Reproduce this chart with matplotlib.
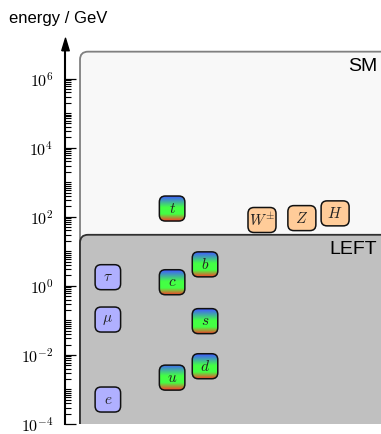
import numpy as np
import matplotlib
matplotlib.use("Agg")
import matplotlib.pyplot as plt
from matplotlib.patches import FancyBboxPatch
from matplotlib.colors import LinearSegmentedColormap
from matplotlib.ticker import FixedLocator, FuncFormatter, NullFormatter

plt.rcParams["mathtext.fontset"] = "cm"
plt.rcParams["font.family"] = ["Liberation Sans", "DejaVu Sans"]

# masses in GeV, x = column on the chart
leptons = [r"$e$", r"$\mu$", r"$\tau$"]
lepton_mass = [0.000511, 0.1057, 1.777]
lepton_x = [1.37, 1.37, 1.37]

quarks = [r"$u$", r"$d$", r"$s$", r"$c$", r"$b$", r"$t$"]
quark_mass = [0.0022, 0.0047, 0.095, 1.27, 4.18, 172.7]
quark_x = [3.40, 4.44, 4.44, 3.40, 4.44, 3.40]

bosons = [r"$W^{\pm}$", r"$Z$", r"$H$"]
boson_mass = [80.4, 91.2, 125.1]
boson_x = [6.24, 7.50, 8.55]

# validity regions (theory name, upper energy, left edge)
regions = ["SM", "LEFT"]
region_top = [6e6, 30.0]
region_left = [0.49, 0.49]

major_ticks = [1e-4, 1e-2, 1e0, 1e2, 1e4, 1e6]

lepton_color = "#b0b0ff"
boson_color = "#ffcc99"
region_face = ["#f8f8f8", "#c0c0c0"]
region_edge = ["#808080", "#303030"]
quark_cmap = LinearSegmentedColormap.from_list(
    "rgb", [(0.0, "#ff3b2a"), (0.28, "#44ff44"), (0.55, "#44ff44"), (1.0, "#3f5cff")]
)

fig = plt.figure(figsize=(3.81, 4.34), dpi=100)
ax = fig.add_axes([64.5 / 381, 10 / 434, 1 - 64.5 / 381, 380 / 434])
ax.set_yscale("log")
ax.set_xlim(0, 10)
ax.set_ylim(1e-4, 1e7)
ax.autoscale(False)
ax.patch.set_alpha(0)

W = ax.bbox.width
H = ax.bbox.height


def to_axes(x, y):
    return ax.transAxes.inverted().transform(ax.transData.transform((x, y)))


def rounded(x0, y0, w, h, r, **kw):
    # box given in axes fraction, rounding radius in pixels
    p = FancyBboxPatch(
        (x0, y0), w, h,
        boxstyle=f"round,pad=0,rounding_size={r / W}",
        mutation_aspect=W / H,
        transform=ax.transAxes,
        **kw,
    )
    ax.add_patch(p)
    return p


# regions
for name, top, left, fc, ec in zip(regions, region_top, region_left, region_face, region_edge):
    x0, y1 = to_axes(left, top)
    rounded(x0, -0.1, 1.3 - x0, y1 + 0.1, 8, facecolor=fc, edgecolor=ec, lw=1.3, zorder=1)
    ax.text(1 - 4 / W, y1 - 15 / H, name, transform=ax.transAxes,
            ha="right", va="center", fontsize=14, zorder=2)


def particle(x, m, label, bw, fc=None, gradient=False):
    cx, cy = to_axes(x, m)
    w, h = bw / W, 25 / H
    x0, y0 = cx - w / 2, cy - h / 2
    p = rounded(x0, y0, w, h, 6, facecolor=fc if fc else "none",
                edgecolor="#111111", lw=1.1, zorder=4)
    if gradient:
        im = ax.imshow(np.linspace(0, 1, 64).reshape(-1, 1), extent=[x0, x0 + w, y0, y0 + h],
                       transform=ax.transAxes, aspect="auto", origin="lower",
                       cmap=quark_cmap, interpolation="bilinear", zorder=3)
        im.set_clip_path(p)
    ax.text(cx, cy, label, transform=ax.transAxes, ha="center", va="center",
            fontsize=11, color="#222222", zorder=5)


for x, m, lab in zip(lepton_x, lepton_mass, leptons):
    particle(x, m, lab, 25.5, fc=lepton_color)
for x, m, lab in zip(quark_x, quark_mass, quarks):
    particle(x, m, lab, 25.5, gradient=True)
for x, m, lab in zip(boson_x, boson_mass, bosons):
    particle(x, m, lab, 28, fc=boson_color)

# axis
for s in ["top", "right", "bottom"]:
    ax.spines[s].set_visible(False)
ax.spines["left"].set_linewidth(1.5)
ax.xaxis.set_visible(False)
ax.yaxis.set_major_locator(FixedLocator(major_ticks))
ax.yaxis.set_major_formatter(FuncFormatter(lambda v, pos: r"$10^{%d}$" % round(np.log10(v))))
decades = np.arange(-4, 6)
minor = (np.arange(1, 10)[None, :] * 10.0 ** decades[:, None]).ravel()
ax.yaxis.set_minor_locator(FixedLocator(minor))
ax.yaxis.set_minor_formatter(NullFormatter())
ax.tick_params(axis="y", which="major", direction="in", length=8, width=0.9, pad=8, labelsize=11.5)
ax.tick_params(axis="y", which="minor", direction="in", length=4, width=0.8)

arrow = [(-0.6, -1.0), (0.6, -1.0), (0.0, 1.0), (-0.6, -1.0)]
ax.plot([0], [1], marker=arrow, ms=9, color="k", transform=ax.transAxes, clip_on=False, zorder=6)

fig.text(9 / 381, 1 - 18 / 434, "energy / GeV", ha="left", va="center", fontsize=12)

fig.savefig("out.png", dpi=100)
